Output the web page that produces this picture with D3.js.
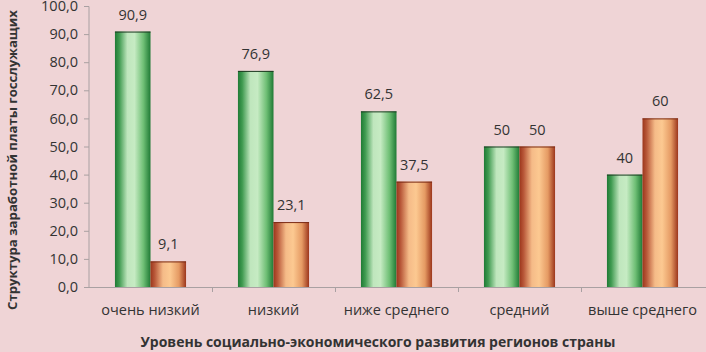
<!DOCTYPE html>
<html><head><meta charset="utf-8">
<script src="https://cdn.jsdelivr.net/npm/d3@7"></script>
<style>
html,body{margin:0;padding:0;background:#efd4d6;}
svg{display:block;}
text{font-family:"Open Sans","Noto Sans",sans-serif;fill:#333;}
</style></head>
<body>
<svg id="chart" width="706" height="352"></svg>
<script>
const categories = ["очень низкий","низкий","ниже среднего","средний","выше среднего"];
const seriesA = [90.9, 76.9, 62.5, 50, 40];
const seriesB = [9.1, 23.1, 37.5, 50, 60];
const labelsA = ["90,9","76,9","62,5","50","40"];
const labelsB = ["9,1","23,1","37,5","50","60"];
const yTicks = [0,10,20,30,40,50,60,70,80,90,100];
const yTitle = "Структура заработной платы госслужащих";
const xTitle = "Уровень социально-экономического развития регионов страны";

const svg = d3.select("#chart");
const W = 706, H = 352;
svg.append("rect").attr("width",W).attr("height",H).attr("fill","#efd4d6");

const left = 89, right = 704, y0 = 287, yTop = 6;
const x0 = d3.scaleBand().domain(categories).range([left,right]).padding(0);
const x1 = d3.scaleBand().domain(["A","B"]).range([0,x0.bandwidth()]).paddingInner(0).paddingOuter(0.73);
const y = d3.scaleLinear().domain([0,100]).range([y0,yTop]);

const defs = svg.append("defs");
function grad(id, stops){
  const g = defs.append("linearGradient").attr("id",id).attr("x1","0").attr("x2","1").attr("y1","0").attr("y2","0");
  stops.forEach(s=>g.append("stop").attr("offset",s[0]).attr("stop-color",s[1]));
}
grad("gA",[[0,"#1f7a35"],[0.12,"#3f9a50"],[0.35,"#bfe6bd"],[0.55,"#c6ebc3"],[0.8,"#6fbf75"],[1,"#1f7a35"]]);
grad("gB",[[0,"#9c361c"],[0.12,"#b9593a"],[0.35,"#f5bb88"],[0.55,"#fcc991"],[0.8,"#e59a63"],[1,"#9c361c"]]);

// axes
const yAxis = d3.axisLeft(y).tickValues(yTicks).tickSize(5).tickPadding(6)
  .tickFormat(d=>d3.format(".1f")(d).replace(".",","));
const gy = svg.append("g").attr("transform",`translate(${left},0)`).call(yAxis);
gy.select(".domain").attr("stroke","#a9a0a2").attr("d",`M-5,${yTop+0.5}H0V${y0}`);
gy.selectAll(".tick line").attr("stroke","#a9a0a2");
gy.selectAll(".tick text").attr("font-size","14.5px").attr("fill","#333");

const gx = svg.append("g").attr("transform",`translate(0,${y0})`);
gx.append("line").attr("x1",left-5).attr("x2",right+2).attr("y1",0.5).attr("y2",0.5).attr("stroke","#a9a0a2");
gx.selectAll(".sep").data(categories.slice(1)).enter().append("line")
  .attr("x1",d=>x0(d)+0.5).attr("x2",d=>x0(d)+0.5).attr("y1",0).attr("y2",5).attr("stroke","#a9a0a2");
gx.selectAll(".lab").data(categories).enter().append("text")
  .attr("x",d=>x0(d)+x0.bandwidth()/2).attr("y",28).attr("text-anchor","middle")
  .attr("font-size","14.5px").text(d=>d);

// bars
const groups = svg.selectAll(".grp").data(categories).enter().append("g")
  .attr("transform",d=>`translate(${x0(d)},0)`);
groups.append("rect").attr("x",x1("A")).attr("width",x1.bandwidth())
  .attr("y",(d,i)=>y(seriesA[i])).attr("height",(d,i)=>y0-y(seriesA[i]))
  .attr("fill","url(#gA)");
groups.append("line").attr("x1",x1("A")).attr("x2",x1("A")+x1.bandwidth())
  .attr("y1",(d,i)=>y(seriesA[i])+0.5).attr("y2",(d,i)=>y(seriesA[i])+0.5).attr("stroke","#1d3b22");
groups.append("rect").attr("x",x1("B")).attr("width",x1.bandwidth())
  .attr("y",(d,i)=>y(seriesB[i])).attr("height",(d,i)=>y0-y(seriesB[i]))
  .attr("fill","url(#gB)");
groups.append("line").attr("x1",x1("B")).attr("x2",x1("B")+x1.bandwidth())
  .attr("y1",(d,i)=>y(seriesB[i])+0.5).attr("y2",(d,i)=>y(seriesB[i])+0.5).attr("stroke","#7a2a15");

groups.append("text").attr("x",x1("A")+x1.bandwidth()/2).attr("y",(d,i)=>y(seriesA[i])-12)
  .attr("text-anchor","middle").attr("font-size","14.5px").text((d,i)=>labelsA[i]);
groups.append("text").attr("x",x1("B")+x1.bandwidth()/2).attr("y",(d,i)=>y(seriesB[i])-12)
  .attr("text-anchor","middle").attr("font-size","14.5px").text((d,i)=>labelsB[i]);

// titles
svg.append("text").attr("transform","translate(17,310) rotate(-90)").attr("text-anchor","start")
  .attr("font-size","13.2px").attr("font-weight","bold").attr("fill","#222").text(yTitle);
svg.append("text").attr("x",378).attr("y",347).attr("text-anchor","middle")
  .attr("font-size","14px").attr("font-weight","bold").attr("fill","#222").text(xTitle);
</script>
</body></html>
